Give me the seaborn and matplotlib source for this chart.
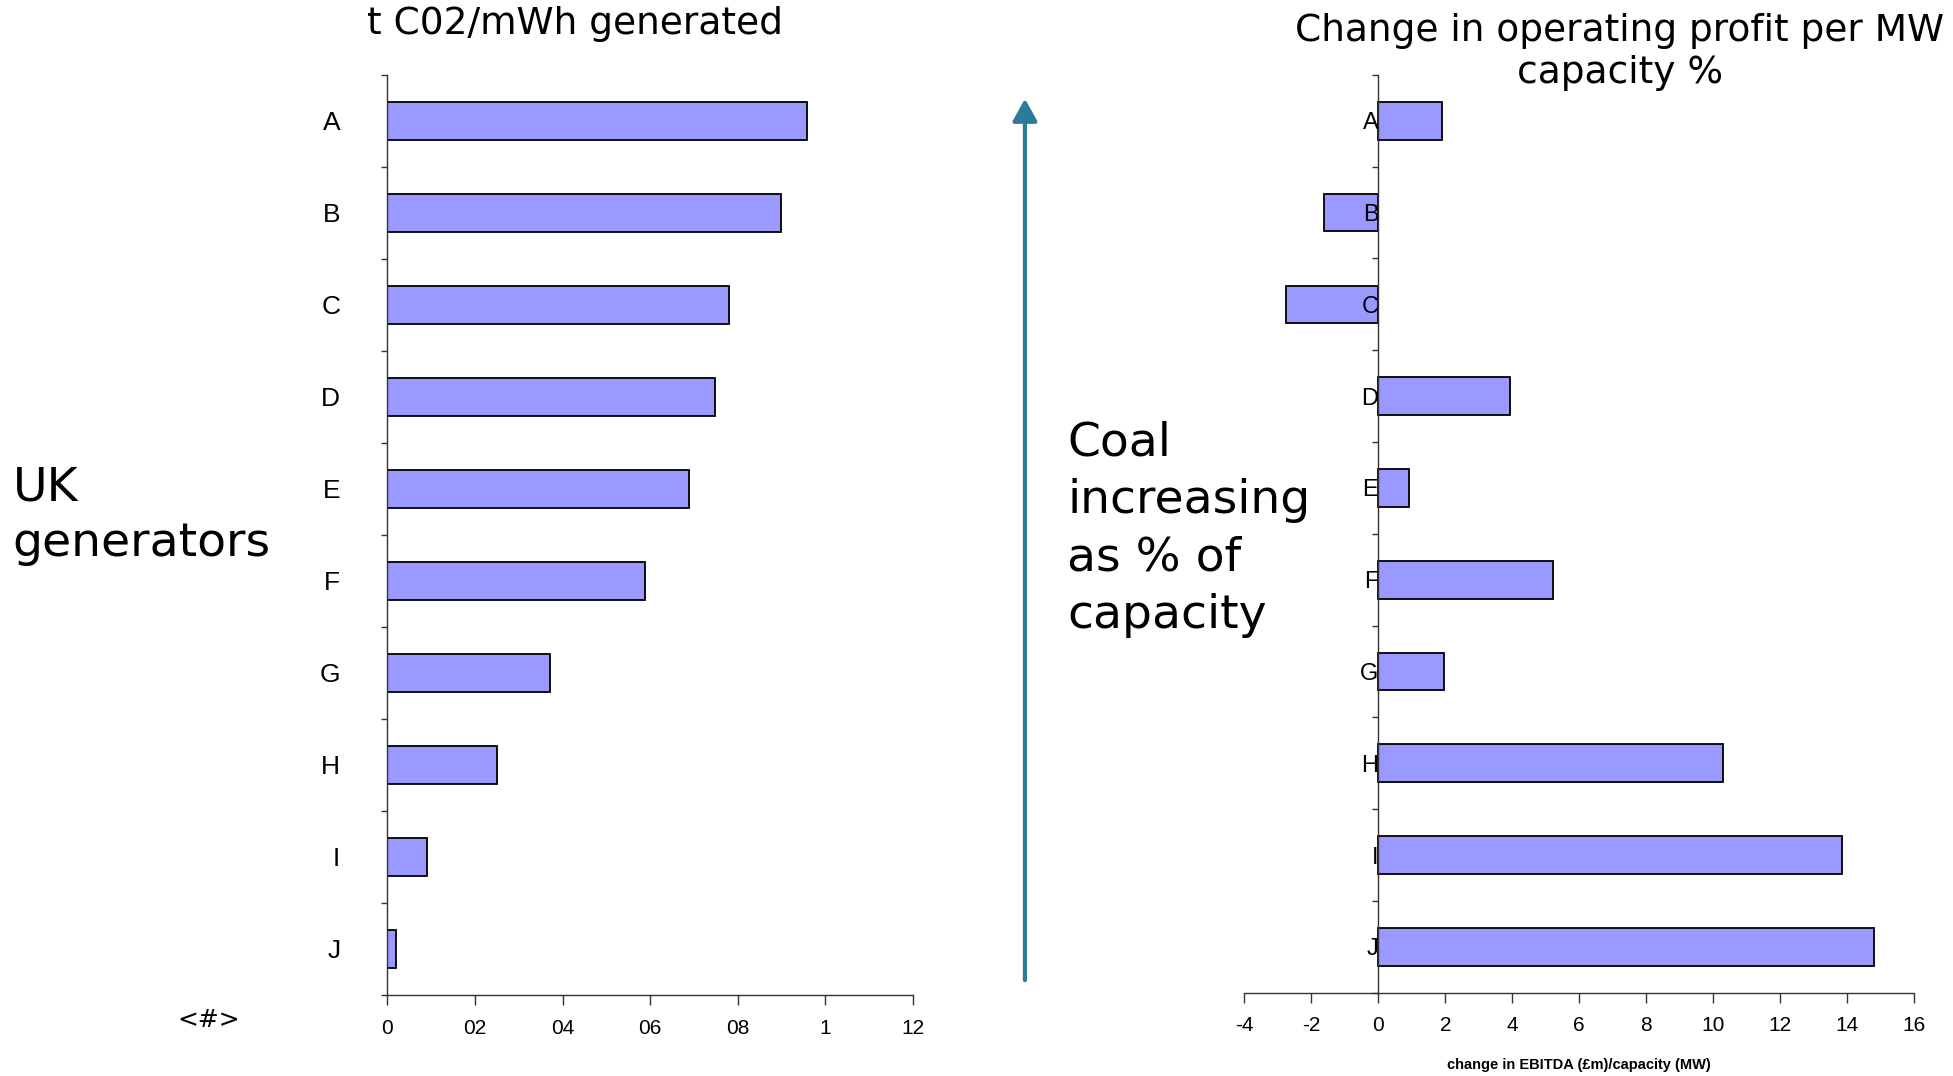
import matplotlib
matplotlib.use("Agg")
import matplotlib.pyplot as plt
import seaborn as sns
import pandas as pd

# Generators, top to bottom
generators = ["A", "B", "C", "D", "E", "F", "G", "H", "I", "J"]
# Carbon intensity, t CO2 per MWh generated
co2_per_mwh = [0.958, 0.898, 0.779, 0.748, 0.688, 0.589, 0.370, 0.250, 0.091, 0.020]
# Change in EBITDA (£m) per MW of capacity
ebitda_change = [1.91, -1.62, -2.74, 3.92, 0.91, 5.23, 1.95, 10.28, 13.85, 14.81]

left_ticks = [0, 0.2, 0.4, 0.6, 0.8, 1.0, 1.2]
left_tick_labels = ["0", "02", "04", "06", "08", "1", "12"]
right_ticks = [-4, -2, 0, 2, 4, 6, 8, 10, 12, 14, 16]
right_tick_labels = ["-4", "-2", "0", "2", "4", "6", "8", "10", "12", "14", "16"]

sns.set_theme(style="white")
plt.rcParams["font.family"] = ["DejaVu Sans"]
plt.rcParams.update({
    "text.color": "black",
    "axes.labelcolor": "black",
    "xtick.color": "black",
    "ytick.color": "black",
})

BAR = "#9999FF"
SPINE = "#333333"
TICK_FONT = ["Liberation Sans Narrow", "Liberation Sans", "DejaVu Sans"]

df_left = pd.DataFrame({"gen": generators, "val": co2_per_mwh})
df_right = pd.DataFrame({"gen": generators, "val": ebitda_change})

fig = plt.figure(figsize=(19.53, 10.76), dpi=100)
fig.patch.set_facecolor("white")

ax1 = fig.add_axes([0.1984, 0.0753, 0.2691, 0.8553])
ax2 = fig.add_axes([0.6371, 0.0774, 0.3431, 0.8530])

for ax, df in ((ax1, df_left), (ax2, df_right)):
    sns.barplot(data=df, x="val", y="gen", orient="h", order=generators,
                color=BAR, saturation=1, edgecolor="black", linewidth=1.3,
                width=0.41, ax=ax)
    ax.set_axisbelow(False)
    ax.set_ylim(9.5, -0.5)
    ax.set_xlabel("")
    ax.set_ylabel("")
    ax.set_facecolor("white")
    for s in ("top", "right"):
        ax.spines[s].set_visible(False)
    for s in ("left", "bottom"):
        ax.spines[s].set_color(SPINE)
        ax.spines[s].set_linewidth(1.0)
    ax.set_yticks(range(len(generators)))
    ax.set_yticks([i + 0.5 for i in range(-1, len(generators))], minor=True)
    ax.tick_params(axis="y", which="minor", direction="out", length=4,
                   width=1, color=SPINE, left=True)
    ax.tick_params(axis="x", which="major", direction="out", length=7,
                   width=1, color=SPINE, bottom=True)

# Left panel: carbon intensity
ax1.set_xlim(0, 1.2)
ax1.set_xticks(left_ticks)
ax1.set_xticklabels(left_tick_labels, family=TICK_FONT, fontsize=15)
ax1.set_yticklabels(generators, family=["Liberation Sans", "DejaVu Sans"],
                    fontsize=19)
ax1.tick_params(axis="y", which="major", length=0, pad=34)
ax1.tick_params(axis="x", pad=10)
for lbl in ax1.get_yticklabels():
    lbl.set_va("center_baseline")

# Right panel: profit change
ax2.set_xlim(-4, 16)
ax2.spines["left"].set_position(("data", 0))
ax2.set_xticks(right_ticks)
ax2.set_xticklabels(right_tick_labels, family=TICK_FONT, fontsize=15)
ax2.set_yticklabels(generators, family=["Liberation Sans", "DejaVu Sans"], fontsize=17)
ax2.tick_params(axis="y", which="major", length=0, pad=0)
ax2.tick_params(axis="x", pad=10)
ax2.set_xlabel("change in EBITDA (£m)/capacity (MW)", family=TICK_FONT,
               fontsize=10.5, fontweight="bold", labelpad=16)

# Titles and annotations
fig.text(0.2945, 0.9775, "t C02/mWh generated", ha="center", va="center",
         fontsize=27)
fig.text(0.8295, 0.9515, "Change in operating profit per MW\ncapacity %",
         ha="center", va="center", fontsize=27, linespacing=1.22)
fig.text(0.0065, 0.5204, "UK\ngenerators", ha="left", va="center",
         fontsize=34, linespacing=1.3)
fig.text(0.5465, 0.508, "Coal\nincreasing\nas % of\ncapacity", ha="left",
         va="center", fontsize=34, linespacing=1.36)
fig.text(0.107, 0.052, "<#>", ha="center", va="center", fontsize=18)

fig.add_artist(matplotlib.patches.FancyArrowPatch(
    (0.5248, 0.0864), (0.5248, 0.9108), transform=fig.transFigure,
    arrowstyle="-|>,head_length=9,head_width=5", mutation_scale=1.5,
    color="#2E7A9A", linewidth=3))

fig.savefig("out.png", dpi=100, facecolor="white")
